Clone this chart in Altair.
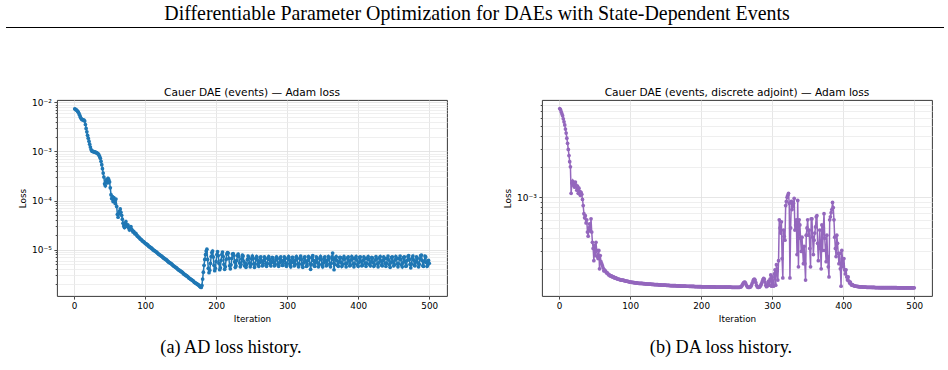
import altair as alt
import numpy as np
import pandas as pd

# ---- text ---------------------------------------------------------------
HEADING = "Differentiable Parameter Optimization for DAEs with State-Dependent Events"
TITLE_AD = "Cauer DAE (events) — Adam loss"
TITLE_DA = "Cauer DAE (events, discrete adjoint) — Adam loss"
CAPTION_AD = "(a) AD loss history."
CAPTION_DA = "(b) DA loss history."
X_TITLE = "Iteration"
Y_TITLE = "Loss"
X_TICKS = [0, 100, 200, 300, 400, 500]

# ---- loss histories (log10 of the loss, one entry per Adam iteration) ----
ad_log10_loss = [
    -2.13, -2.14, -2.15, -2.16, -2.18, -2.20, -2.23, -2.26, -2.30, -2.33,
    -2.35, -2.35, -2.36, -2.36, -2.38, -2.45, -2.53, -2.60, -2.67, -2.73,
    -2.79, -2.85, -2.91, -2.96, -2.99, -3.00, -3.00, -3.01, -3.01, -3.02,
    -3.02, -3.03, -3.04, -3.05, -3.07, -3.10, -3.14, -3.20, -3.27, -3.35,
    -3.44, -3.52, -3.66, -3.70, -3.62, -3.57, -3.64, -3.55, -3.58, -3.62,
    -3.74, -3.88, -3.96, -3.92, -4.02, -3.94, -3.99, -4.06, -3.97, -4.12,
    -4.28, -4.34, -4.27, -4.22, -4.17, -4.24, -4.30, -4.38, -4.46, -4.52,
    -4.55, -4.47, -4.43, -4.49, -4.53, -4.50, -4.56, -4.60, -4.55, -4.53,
    -4.58, -4.61, -4.64, -4.63, -4.66, -4.68, -4.67, -4.70, -4.72, -4.73,
    -4.75, -4.76, -4.78, -4.79, -4.80, -4.82, -4.83, -4.84, -4.85, -4.87,
    -4.88, -4.89, -4.90, -4.91, -4.93, -4.94, -4.95, -4.96, -4.97, -4.98,
    -5.00, -5.01, -5.02, -5.03, -5.04, -5.05, -5.06, -5.08, -5.09, -5.10,
    -5.11, -5.12, -5.13, -5.14, -5.16, -5.17, -5.18, -5.19, -5.20, -5.21,
    -5.22, -5.24, -5.25, -5.26, -5.27, -5.28, -5.29, -5.30, -5.32, -5.33,
    -5.34, -5.35, -5.36, -5.37, -5.38, -5.40, -5.41, -5.42, -5.43, -5.44,
    -5.45, -5.46, -5.47, -5.49, -5.50, -5.51, -5.52, -5.53, -5.54, -5.55,
    -5.57, -5.58, -5.59, -5.60, -5.61, -5.62, -5.63, -5.64, -5.66, -5.67,
    -5.68, -5.69, -5.70, -5.71, -5.72, -5.73, -5.75, -5.76, -5.77, -5.73,
    -5.60, -5.46, -5.32, -5.20, -5.10, -5.03, -4.99, -5.20, -5.38, -5.47,
    -5.42, -5.28, -5.14, -5.06, -5.03, -5.15, -5.32, -5.43, -5.38, -5.24,
    -5.10, -5.04, -5.12, -5.28, -5.41, -5.37, -5.22, -5.10, -5.05, -5.14,
    -5.30, -5.40, -5.35, -5.20, -5.09, -5.06, -5.07, -5.18, -5.33, -5.39,
    -5.31, -5.18, -5.09, -5.08, -5.12, -5.25, -5.36, -5.33, -5.22, -5.12,
    -5.09, -5.14, -5.27, -5.35, -5.30, -5.19, -5.11, -5.13, -5.24, -5.33,
    -5.28, -5.36, -5.31, -5.20, -5.13, -5.16, -5.27, -5.35, -5.30, -5.19,
    -5.13, -5.18, -5.29, -5.36, -5.29, -5.18, -5.14, -5.21, -5.31, -5.34,
    -5.26, -5.16, -5.15, -5.24, -5.33, -5.32, -5.22, -5.15, -5.18, -5.28,
    -5.34, -5.28, -5.18, -5.14, -5.20, -5.30, -5.33, -5.25, -5.16, -5.17,
    -5.26, -5.33, -5.31, -5.21, -5.15, -5.19, -5.29, -5.34, -5.27, -5.17,
    -5.15, -5.23, -5.32, -5.32, -5.22, -5.15, -5.18, -5.28, -5.34, -5.28,
    -5.18, -5.14, -5.21, -5.31, -5.35, -5.26, -5.16, -5.16, -5.25, -5.33,
    -5.31, -5.21, -5.14, -5.18, -5.29, -5.35, -5.29, -5.18, -5.13, -5.20,
    -5.31, -5.36, -5.27, -5.16, -5.15, -5.24, -5.34, -5.33, -5.22, -5.14,
    -5.17, -5.29, -5.40, -5.30, -5.16, -5.12, -5.22, -5.33, -5.34, -5.24,
    -5.15, -5.17, -5.27, -5.35, -5.30, -5.19, -5.14, -5.20, -5.31, -5.35,
    -5.27, -5.17, -5.15, -5.24, -5.33, -5.32, -5.21, -5.14, -5.18, -5.29,
    -5.35, -5.28, -5.15, -5.07, -5.20, -5.41, -5.30, -5.17, -5.14, -5.22,
    -5.32, -5.34, -5.25, -5.16, -5.16, -5.26, -5.34, -5.30, -5.19, -5.14,
    -5.19, -5.29, -5.35, -5.28, -5.17, -5.15, -5.23, -5.33, -5.32, -5.21,
    -5.14, -5.18, -5.29, -5.35, -5.29, -5.18, -5.14, -5.21, -5.31, -5.34,
    -5.26, -5.16, -5.15, -5.24, -5.33, -5.32, -5.22, -5.15, -5.18, -5.28,
    -5.34, -5.28, -5.18, -5.14, -5.20, -5.30, -5.33, -5.25, -5.16, -5.17,
    -5.26, -5.34, -5.31, -5.21, -5.14, -5.19, -5.29, -5.35, -5.27, -5.17,
    -5.14, -5.23, -5.32, -5.33, -5.22, -5.15, -5.18, -5.28, -5.34, -5.28,
    -5.18, -5.13, -5.21, -5.31, -5.36, -5.26, -5.16, -5.15, -5.25, -5.33,
    -5.31, -5.21, -5.14, -5.18, -5.29, -5.35, -5.29, -5.18, -5.13, -5.20,
    -5.31, -5.35, -5.27, -5.16, -5.15, -5.24, -5.34, -5.33, -5.22, -5.14,
    -5.12, -5.20, -5.30, -5.37, -5.29, -5.17, -5.13, -5.21, -5.32, -5.33,
    -5.24, -5.15, -5.17, -5.27, -5.35, -5.30, -5.19, -5.12, -5.11, -5.22,
    -5.33, -5.34, -5.24, -5.13, -5.15, -5.26, -5.34, -5.31, -5.22, -5.28,
]

da_log10_loss = [
    -2.13, -2.14, -2.16, -2.18, -2.20, -2.23, -2.26, -2.29, -2.33, -2.37,
    -2.42, -2.47, -2.53, -2.59, -2.65, -2.70, -2.96, -2.86, -2.84, -2.88,
    -2.86, -2.90, -2.85, -2.88, -2.93, -2.89, -2.96, -2.91, -2.94, -2.98,
    -2.95, -2.97, -3.02, -3.08, -3.16, -3.20, -3.18, -3.25, -3.22, -3.34,
    -3.38, -3.30, -3.26, -3.33, -3.21, -3.34, -3.44, -3.50, -3.62, -3.47,
    -3.57, -3.44, -3.52, -3.58, -3.60, -3.52, -3.70, -3.57, -3.63, -3.65,
    -3.67, -3.69, -3.72, -3.71, -3.72, -3.73, -3.74, -3.74, -3.75, -3.76,
    -3.76, -3.77, -3.77, -3.77, -3.78, -3.78, -3.78, -3.79, -3.79, -3.79,
    -3.795, -3.800, -3.800, -3.800, -3.805, -3.805, -3.810, -3.810, -3.810, -3.812,
    -3.814, -3.816, -3.818, -3.820, -3.821, -3.822, -3.824, -3.826, -3.828, -3.830,
    -3.831, -3.832, -3.833, -3.834, -3.835, -3.836, -3.837, -3.838, -3.839, -3.840,
    -3.841, -3.842, -3.842, -3.843, -3.843, -3.844, -3.844, -3.845, -3.845, -3.846,
    -3.847, -3.847, -3.848, -3.849, -3.849, -3.850, -3.850, -3.851, -3.851, -3.852,
    -3.852, -3.853, -3.853, -3.854, -3.854, -3.855, -3.855, -3.856, -3.856, -3.857,
    -3.857, -3.858, -3.858, -3.859, -3.859, -3.860, -3.860, -3.860, -3.861, -3.861,
    -3.862, -3.862, -3.862, -3.863, -3.863, -3.864, -3.864, -3.864, -3.865, -3.865,
    -3.865, -3.866, -3.866, -3.866, -3.867, -3.867, -3.867, -3.868, -3.868, -3.868,
    -3.869, -3.869, -3.869, -3.869, -3.870, -3.870, -3.870, -3.870, -3.871, -3.871,
    -3.871, -3.871, -3.872, -3.872, -3.872, -3.872, -3.873, -3.873, -3.873, -3.873,
    -3.874, -3.874, -3.874, -3.874, -3.874, -3.875, -3.875, -3.875, -3.875, -3.875,
    -3.876, -3.876, -3.876, -3.876, -3.876, -3.876, -3.877, -3.877, -3.877, -3.877,
    -3.877, -3.877, -3.878, -3.878, -3.878, -3.878, -3.878, -3.878, -3.878, -3.879,
    -3.879, -3.879, -3.879, -3.879, -3.879, -3.879, -3.879, -3.880, -3.880, -3.880,
    -3.880, -3.880, -3.880, -3.880, -3.880, -3.880, -3.880, -3.880, -3.880, -3.880,
    -3.880, -3.880, -3.881, -3.881, -3.881, -3.881, -3.881, -3.881, -3.881, -3.881,
    -3.882, -3.882, -3.882, -3.881, -3.880, -3.878, -3.870, -3.858, -3.845, -3.835,
    -3.830, -3.834, -3.848, -3.864, -3.876, -3.881, -3.882, -3.882, -3.880, -3.872,
    -3.858, -3.840, -3.820, -3.805, -3.800, -3.810, -3.835, -3.860, -3.876, -3.882,
    -3.882, -3.880, -3.872, -3.860, -3.845, -3.825, -3.805, -3.795, -3.800, -3.830,
    -3.860, -3.875, -3.870, -3.845, -3.820, -3.860, -3.800, -3.760, -3.870, -3.780,
    -3.840, -3.870, -3.750, -3.710, -3.860, -3.660, -3.720, -3.810, -3.620, -3.220,
    -3.30, -3.35, -3.24, -3.60, -3.79, -3.32, -3.38, -3.42, -3.08, -3.04,
    -3.00, -2.98, -2.96, -3.06, -3.79, -3.30, -3.04, -3.12, -3.09, -3.06,
    -3.01, -3.32, -3.27, -3.22, -3.56, -3.03, -3.68, -3.22, -3.27, -3.40,
    -3.53, -3.39, -3.52, -3.65, -3.48, -3.65, -3.81, -3.37, -3.30, -3.22,
    -3.37, -3.32, -3.50, -3.68, -3.21, -3.21, -3.39, -3.56, -3.42, -3.35,
    -3.29, -3.19, -3.18, -3.45, -3.62, -3.47, -3.32, -3.50, -3.70, -3.27,
    -3.52, -3.30, -3.16, -3.40, -3.52, -3.63, -3.37, -3.58, -3.68, -3.78,
    -3.22, -3.19, -3.15, -3.12, -3.05, -3.10, -3.22, -3.39, -3.50, -3.58,
    -3.37, -3.45, -3.55, -3.65, -3.55, -3.70, -3.87, -3.52, -3.60, -3.68,
    -3.60, -3.71, -3.75, -3.71, -3.78, -3.81, -3.78, -3.82, -3.84, -3.83,
    -3.850, -3.860, -3.855, -3.862, -3.866, -3.868, -3.870, -3.871, -3.872, -3.873,
    -3.874, -3.875, -3.876, -3.876, -3.877, -3.878, -3.878, -3.879, -3.879, -3.880,
    -3.880, -3.880, -3.881, -3.881, -3.881, -3.882, -3.882, -3.882, -3.882, -3.883,
    -3.883, -3.883, -3.883, -3.883, -3.884, -3.884, -3.884, -3.884, -3.884, -3.884,
    -3.885, -3.885, -3.885, -3.885, -3.885, -3.885, -3.885, -3.885, -3.885, -3.885,
    -3.885, -3.885, -3.885, -3.885, -3.885, -3.885, -3.885, -3.885, -3.885, -3.885,
    -3.885, -3.885, -3.885, -3.885, -3.885, -3.886, -3.886, -3.886, -3.886, -3.886,
    -3.886, -3.886, -3.886, -3.886, -3.886, -3.886, -3.886, -3.886, -3.886, -3.886,
    -3.886, -3.886, -3.886, -3.886, -3.886, -3.886, -3.886, -3.886, -3.886, -3.886,
]

# ---- axis ranges and log ticks -------------------------------------------
X_DOMAIN = [-24, 525]
AD_Y_DOMAIN = [1.135e-6, 1.12e-2]
DA_Y_DOMAIN = [1.08e-4, 9.0e-3]
AD_MAJOR = [1e-2, 1e-3, 1e-4, 1e-5]
DA_MAJOR = [1e-3]

BLUE = "#1f77b4"
PURPLE = "#9467bd"
SANS = "DejaVu Sans"
SERIF = "Liberation Serif"

PLOT_W, PLOT_H = 390, 196
SUP = str.maketrans("-0123456789", "⁻⁰¹²³⁴⁵⁶⁷⁸⁹")


def minor_ticks(domain):
    lo, hi = domain
    out = []
    for e in range(int(np.floor(np.log10(lo))), int(np.ceil(np.log10(hi))) + 1):
        for m in range(2, 10):
            v = m * 10.0 ** e
            if lo <= v <= hi:
                out.append(float(f"{v:.3g}"))
    return out


def log_axis(majors, domain):
    is_major = " || ".join(f"abs(datum.value / {v} - 1) < 1e-6" for v in majors)
    label_expr = " : ".join(
        f"abs(datum.value / {v} - 1) < 1e-6 ? '10{str(int(round(np.log10(v)))).translate(SUP)}'"
        for v in majors
    ) + " : ''"
    return alt.Axis(
        values=majors + minor_ticks(domain),
        labelExpr=label_expr,
        labelOverlap=False,
        labelFlush=False,
        labelBound=False,
        labelFont=SANS,
        labelFontSize=9,
        labelColor="black",
        labelPadding=2.5,
        domain=False,
        tickColor="black",
        tickWidth=0.7,
        tickSize={"condition": {"test": is_major, "value": 3.1}, "value": 1.8},
        grid=True,
        gridWidth=0.8,
        gridColor={"condition": {"test": is_major, "value": "#e0e0e0"}, "value": "#ebebeb"},
        title=Y_TITLE,
        titleFont=SANS,
        titleFontSize=8.8,
        titleFontWeight="normal",
        titleColor="black",
        titleX=-35,
        titleY=PLOT_H / 2,
        titleBaseline="middle",
    )


x_axis = alt.Axis(
    values=X_TICKS,
    labelFont=SANS,
    labelFontSize=8.8,
    labelColor="black",
    labelFlush=False,
    labelPadding=2.5,
    domain=False,
    tickColor="black",
    tickWidth=0.7,
    tickSize=3.1,
    grid=True,
    gridWidth=0.8,
    gridColor="#e0e0e0",
    title=X_TITLE,
    titleFont=SANS,
    titleFontSize=8.8,
    titleFontWeight="normal",
    titleColor="black",
    titleY=22.7,
    titleBaseline="middle",
)


def text_layer(text, x, y, font, size, baseline="middle"):
    return (
        alt.Chart(pd.DataFrame({"t": [text]}))
        .mark_text(font=font, fontSize=size, color="black", align="center", baseline=baseline)
        .encode(x=alt.value(x), y=alt.value(y), text="t:N")
    )


def panel(values, color, title, y_domain, majors, caption, caption_x, extras=()):
    df = pd.DataFrame({"iteration": np.arange(1, len(values) + 1),
                       "loss": 10.0 ** np.asarray(values)})
    x = alt.X("iteration:Q", scale=alt.Scale(domain=X_DOMAIN, nice=False, zero=False), axis=x_axis)
    y = alt.Y("loss:Q", scale=alt.Scale(type="log", domain=y_domain, nice=False, zero=False),
              axis=log_axis(majors, y_domain))
    base = alt.Chart(df).encode(x=x, y=y)
    line = base.mark_line(color=color, strokeWidth=1.5)
    dots = base.mark_circle(color=color, size=14, opacity=1)
    ttl = text_layer(title, PLOT_W / 2, -4.5, SANS, 10.6, baseline="alphabetic")
    cap = text_layer(caption, caption_x, PLOT_H + 51.5, SERIF, 18.2)
    return alt.layer(line, dots, ttl, cap, *extras).properties(width=PLOT_W, height=PLOT_H)


# heading, rule under it, and a blank corner marker pinning the page origin
heading = text_layer(HEADING, 420, -86.5, SERIF, 19.9)
rule = alt.Chart(pd.DataFrame({"k": [0]})).mark_rule(color="black", strokeWidth=1).encode(
    x=alt.value(-51), x2=alt.value(887), y=alt.value(-72.5))
corner = alt.Chart(pd.DataFrame({"k": [0]})).mark_rule(color="white", strokeWidth=0).encode(
    x=alt.value(-56), x2=alt.value(-55), y=alt.value(-99.5))

left = panel(ad_log10_loss, BLUE, TITLE_AD, AD_Y_DOMAIN, AD_MAJOR, CAPTION_AD, 174,
             extras=(heading, rule, corner))
right = panel(da_log10_loss, PURPLE, TITLE_DA, DA_Y_DOMAIN, DA_MAJOR, CAPTION_DA, 179)

chart = (
    alt.hconcat(left, right, spacing=95, bounds="flush")
    .properties(padding=0, background="white")
    .configure_view(stroke="#222", strokeWidth=0.9)
)

chart.save("out.html", embed_options={"renderer": "svg", "actions": False})
